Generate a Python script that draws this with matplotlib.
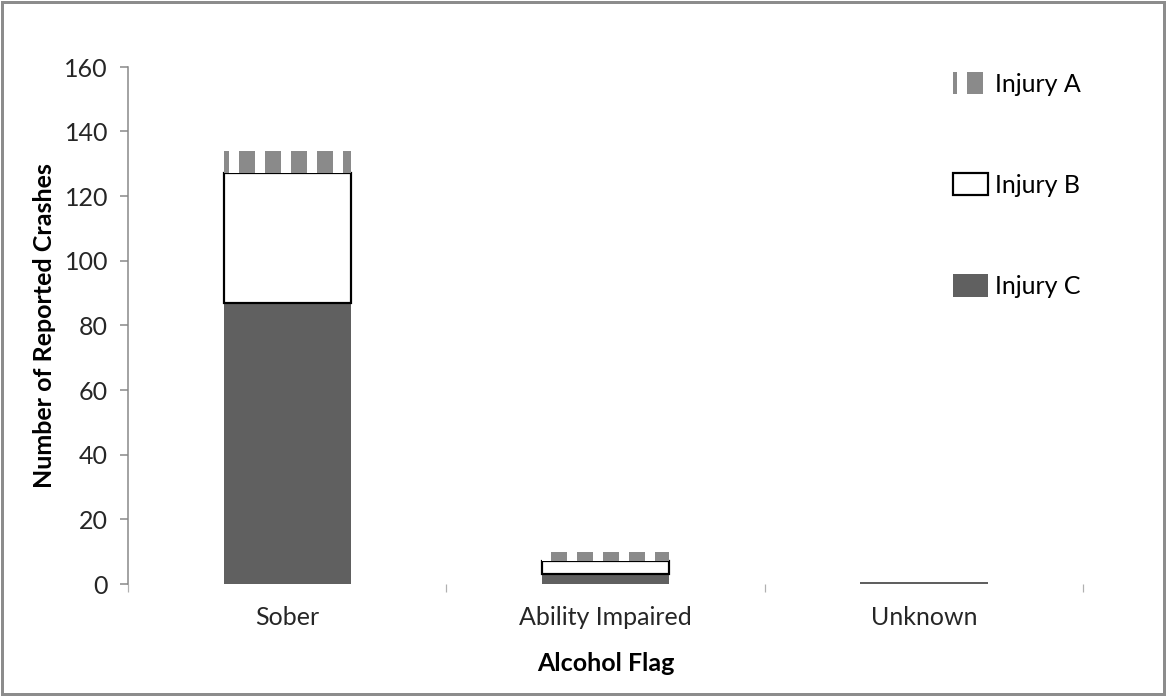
import matplotlib
matplotlib.use("Agg")
import matplotlib.pyplot as plt
from matplotlib.patches import Rectangle
import numpy as np

categories = ["Sober", "Ability Impaired", "Unknown"]
injury_c = [87, 3, 0.6]
injury_b = [40, 4, 0]
injury_a = [7, 3, 0]

# dpi chosen so the '|' hatch spacing (dpi/6 px) matches the stripe pitch
DPI = 156
px = 72.0 / DPI  # one pixel in points
fs = 25 * px

plt.rcParams['font.family'] = ['Lato', 'DejaVu Sans']
plt.rcParams['hatch.linewidth'] = 16 * px

fig = plt.figure(figsize=(1166.2 / DPI, 696.2 / DPI), dpi=DPI)
ax = fig.add_axes([128 / 1166, 1 - 584 / 696, (1083 - 128) / 1166, (584 - 67) / 696])

x = np.arange(len(categories))
w = 0.40
c = np.array(injury_c)
b = np.array(injury_b)
a = np.array(injury_a)

ax.bar(x, c, w, color="#606060", linewidth=0, label="Injury C")
ax.bar(x, b, w, bottom=c, facecolor="white", edgecolor="black",
       linewidth=np.where(b > 0, 2.2 * px, 0), label="Injury B")
ax.bar(x, a, w, bottom=c + b, facecolor="white", edgecolor="#8a8a8a", hatch="|",
       linewidth=0, label="Injury A")

ax.set_xlim(-0.5, 2.5)
ax.set_ylim(0, 160)
ax.set_yticks(np.arange(0, 161, 20))
ax.set_xticks(x)
ax.set_xticklabels(categories, fontsize=fs, color="#262626")
ax.set_xticks([-0.5, 0.5, 1.5, 2.5], minor=True)
ax.tick_params(axis="x", which="major", length=0, pad=22 * px)
ax.tick_params(axis="x", which="minor", length=8 * px, width=1.2 * px, color="#b0b0b0")
ax.tick_params(axis="y", labelsize=fs, labelcolor="#262626", length=8 * px, width=1.5 * px,
               color="#868686", pad=12 * px)

for s in ["top", "right", "bottom"]:
    ax.spines[s].set_visible(False)
ax.spines["left"].set_color("#868686")
ax.spines["left"].set_linewidth(1.5 * px)

ax.set_ylabel("Number of Reported Crashes", fontsize=fs, fontweight="bold", labelpad=8 * px)
ax.set_xlabel("Alcohol Flag", fontsize=fs, fontweight="bold", labelpad=23 * px)

handles, labels = ax.get_legend_handles_labels()
leg = ax.legend(handles[::-1], labels[::-1], loc="upper right", bbox_to_anchor=(1.008, 1.01),
                frameon=False, fontsize=fs, labelspacing=3.1, handlelength=1.4,
                handleheight=1.0, handletextpad=0.3, borderaxespad=0)

fig.patches.append(Rectangle((0.0015, 0.0025), 0.997, 0.995, transform=fig.transFigure,
                             fill=False, edgecolor="#8c8c8c", linewidth=3 * px))

fig.savefig("out.png", dpi=DPI)
